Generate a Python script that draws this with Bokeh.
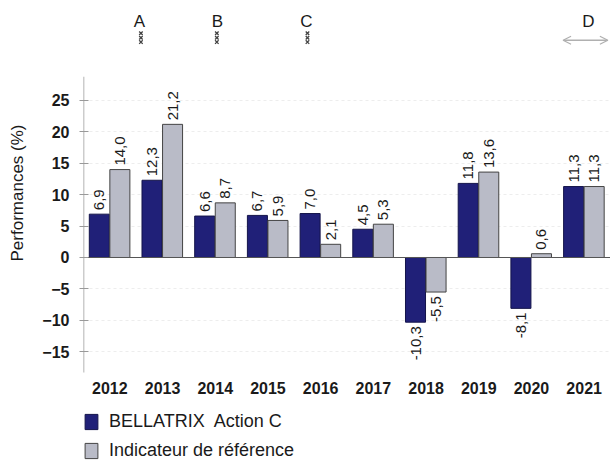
import math
from bokeh.plotting import figure
from bokeh.layouts import column
from bokeh.models import (ColumnDataSource, FactorRange, Range1d, FixedTicker, Legend, LegendItem,
                          Arrow, OpenHead)
from bokeh.transform import dodge
from bokeh.core.properties import value
from bokeh.embed import file_html
from bokeh.resources import INLINE

years = ["2012", "2013", "2014", "2015", "2016", "2017", "2018", "2019", "2020", "2021"]
fund = [6.9, 12.3, 6.6, 6.7, 7.0, 4.5, -10.3, 11.8, -8.1, 11.3]
bench = [14.0, 21.2, 8.7, 5.9, 2.1, 5.3, -5.5, 13.6, 0.6, 11.3]
y_ticks = [-15, -10, -5, 0, 5, 10, 15, 20, 25]
fund_name = "BELLATRIX  Action C"
bench_name = "Indicateur de référence"
event_letters = ["A", "B", "C", "D"]

FONT = "Liberation Sans"
BLUE = "#202078"
GREY = "#b9bbc7"
TXT = "#1a1a1a"

def fmt(v):
    return f"{v:.1f}".replace(".", ",")

src = ColumnDataSource(data=dict(
    year=years, fund=fund, bench=bench,
    fund_lbl=[fmt(v) for v in fund], bench_lbl=[fmt(v) for v in bench],
))

p = figure(frame_width=527, frame_height=365, x_range=FactorRange(*years, range_padding=0),
           y_range=Range1d(-18.79, 39.33), output_backend="svg", toolbar_location=None,
           min_border_left=83, min_border_right=0, min_border_top=10, min_border_bottom=30)
p.outline_line_color = None
p.background_fill_color = "white"
p.border_fill_color = "white"

# grid
p.xgrid.grid_line_color = None
p.ygrid.ticker = FixedTicker(ticks=y_ticks)
p.ygrid.grid_line_color = "#ededed"
p.ygrid.grid_line_dash = "3 3"

# bars
bar_kw = dict(bottom=0, width=0.38, source=src)
fund_style = dict(fill_color=BLUE, line_color="#14144a", line_width=1)
bench_style = dict(fill_color=GREY, line_color="#444444", line_width=1)
p.vbar(x=dodge("year", -0.2, range=p.x_range), top="fund", **bar_kw, **fund_style)
p.vbar(x=dodge("year", 0.19, range=p.x_range), top="bench", **bar_kw, **bench_style)

# zero line
p.line(x=[0, len(years)], y=[0, 0], line_color="#555555", line_width=1.2)

# value labels
for col, lbl, off in (("fund", "fund_lbl", -0.2), ("bench", "bench_lbl", 0.19)):
    vals = src.data[col]
    pos = [i for i, v in enumerate(vals) if v >= 0]
    neg = [i for i, v in enumerate(vals) if v < 0]
    for idx, align, yoff in ((pos, "left", -4), (neg, "right", 4)):
        if not idx:
            continue
        s = ColumnDataSource(data=dict(year=[years[i] for i in idx], v=[vals[i] for i in idx],
                                       t=[src.data[lbl][i] for i in idx]))
        p.text(x=dodge("year", off, range=p.x_range), y="v", text="t", source=s, angle=math.pi / 2,
               text_align=align, text_baseline="middle", y_offset=yoff,
               text_font=value(FONT), text_font_size="15px", text_color=TXT)

# manual y axis line
p.segment(x0=[0], y0=[-18.3], x1=[0], y1=[28.8], line_color="#9a9a9a", line_width=1.5)

# axes
p.yaxis.ticker = FixedTicker(ticks=y_ticks)
p.yaxis.axis_line_color = None
p.yaxis.major_tick_in = 5
p.yaxis.major_tick_out = 4
p.yaxis.major_tick_line_color = "#999999"
p.yaxis.minor_tick_line_color = None
p.yaxis.major_label_standoff = 10
p.yaxis.major_label_text_font = FONT
p.yaxis.major_label_text_font_size = "16px"
p.yaxis.major_label_text_font_style = "bold"
p.yaxis.major_label_text_color = TXT
p.yaxis.axis_label = "Performances (%)"
p.yaxis.axis_label_text_font = FONT
p.yaxis.axis_label_text_font_size = "17px"
p.yaxis.axis_label_text_font_style = "normal"
p.yaxis.axis_label_text_color = TXT
p.yaxis.axis_label_standoff = 12

p.xaxis.axis_line_color = None
p.xaxis.major_tick_line_color = None
p.xaxis.major_tick_out = 0
p.xaxis.major_tick_in = 0
p.xaxis.minor_tick_line_color = None
p.xaxis.major_label_standoff = 6
p.xaxis.major_label_text_font = FONT
p.xaxis.major_label_text_font_size = "16px"
p.xaxis.major_label_text_font_style = "bold"
p.xaxis.major_label_text_color = TXT

# event annotations above the chart
ev_x = [1.06, 2.54, 4.23, 9.58]
p.text(x=ev_x, y=[37.5] * 4, text=event_letters, text_align="center", text_baseline="middle",
       text_font=value(FONT), text_font_size="17px", text_color=TXT)
mk_x = [1.09, 2.53, 4.25]
for yy in (35.7, 35.0, 34.3):
    p.scatter(x=mk_x, y=[yy] * 3, marker="x", size=5, line_color="#444444", line_width=1.3)
p.add_layout(Arrow(x_start=9.10, x_end=9.95, y_start=34.6, y_end=34.6,
                   start=OpenHead(size=8, line_color="#b0b0b0", line_width=1.2),
                   end=OpenHead(size=8, line_color="#b0b0b0", line_width=1.2),
                   line_color="#b0b0b0", line_width=1.5))

# legend strip below the chart
lg = figure(width=610, height=56, x_range=FactorRange(*years), y_range=Range1d(100, 101),
            output_backend="svg", toolbar_location=None, x_axis_location=None, y_axis_location=None,
            min_border_left=0, min_border_right=0, min_border_top=0, min_border_bottom=0)
lg.outline_line_color = None
lg.grid.visible = False
g1 = lg.vbar(x="year", top="fund", **bar_kw, **fund_style)
g2 = lg.vbar(x="year", top="bench", **bar_kw, **bench_style)
legend = Legend(items=[LegendItem(label=fund_name, renderers=[g1]),
                       LegendItem(label=bench_name, renderers=[g2])],
                location=(0, 0), orientation="vertical",
                glyph_width=16, glyph_height=19, label_height=19, label_standoff=10, spacing=8,
                padding=0, margin=0, border_line_color=None, background_fill_alpha=0,
                label_text_font=FONT, label_text_font_size="18px", label_text_color=TXT)
lg.add_layout(legend, "center")

open("out.html", "w").write(file_html(column(p, lg, spacing=0), INLINE))
